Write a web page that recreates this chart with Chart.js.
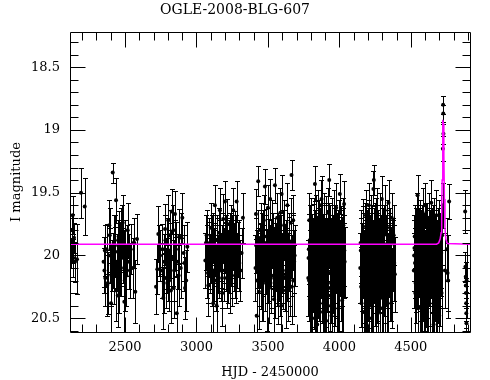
<!DOCTYPE html>
<html><head><meta charset="utf-8">
<script src="https://cdn.jsdelivr.net/npm/chart.js@4/dist/chart.umd.min.js"></script>
<style>html,body{margin:0;padding:0;background:#fff}#wrap{width:490px;height:380px}</style>
</head><body><div id="wrap"><canvas id="c" width="490" height="380"></canvas></div>
<script>
const chartTitle = 'OGLE-2008-BLG-607';
const xTitle = 'HJD - 2450000';
const yTitle = 'I magnitude';
const xTicks = [2500, 3000, 3500, 4000, 4500];
const yTicks = [18.5, 19, 19.5, 20, 20.5];

const hjd = [
 2121,2126,2130,2134,2138,2143,2150,2164,2192,2218,
 2350,2356,2362,2371,2380,2390,2396,2402,2408,2414,2420,2426,2432,2437,2443,2449,2455,2460,2466,2472,2478,2484,2490,2495,2502,2510,2519,2528,2540,2554,2565,2572,2584,
 2717,2726,2733,2745,2757,2762,2768,2774,2780,2786,2792,2797,2803,2809,2815,2821,2827,2833,2838,2844,2850,2856,2862,2870,2880,2890,2901,2910,2920,2936,
 3066,3071,3077,3083,3088,3094,3100,3106,3111,3117,3123,3129,3135,3141,3147,3152,3158,3164,3170,3176,3181,3187,3193,3199,3205,3211,3217,3222,3228,3234,3240,3246,3252,3257,3263,3269,3275,3281,3290,3300,3316,3325,
 3416,3421,3426,3432,3437,3444,3449,3455,3460,3466,3471,3479,3484,3490,3495,3500,3506,3511,3516,3521,3527,3532,3538,3543,3549,3554,3560,3565,3571,3576,3582,3587,3593,3596,3602,3608,3613,3619,3625,3630,3636,3641,3647,3653,3659,3665,3667,3672,3677,3684,
 3782,3786,3789,3794,3798,3802,3806,3810,3814,3818,3822,3826,3829,3833,3837,3841,3845,3849,3853,3857,3861,3865,3869,3875,3879,3883,3887,3891,3895,3899,3903,3907,3911,3915,3919,3923,3929,3933,3937,3941,3945,3949,3953,3957,3961,3965,3969,3973,3978,3983,3988,3993,3998,4003,4008,4013,4018,4023,4028,4033,4037,
 4148,4152,4155,4159,4162,4166,4170,4174,4178,4182,4186,4190,4194,4198,4202,4206,4210,4214,4218,4222,4226,4230,4234,4238,4241,4245,4249,4253,4257,4261,4265,4269,4273,4277,4281,4285,4289,4293,4297,4301,4305,4309,4313,4317,4321,4325,4329,4334,4339,4344,4349,4354,4360,4366,4372,4380,4388,
 4523,4527,4531,4535,4539,4543,4547,4551,4555,4559,4563,4567,4571,4575,4579,4583,4587,4591,4595,4599,4603,4607,4611,4615,4619,4623,4627,4631,4635,4639,4643,4647,4651,4655,4659,4663,4667,4671,4675,4679,4683,4687,4691,4695,4699,4703,4707,4711,4715,4719,
 4722,4724,4726,4727,4728,4740,4752,4757,4761,4768,
 4880,4882,4884,4885,4886,4887,4888,4889,4890,
 2359,2375,2393,2405,2417,2429,2440,2452,2463,2475,2487,2498,2514,2534,2560,
 2738,2771,2783,2800,2812,2824,2841,2853,2875,2895,2915,2928,
 3062,3074,3080,3091,3097,3103,3114,3120,3126,3132,3138,3144,3150,3155,3161,3167,3173,3179,3184,3190,3196,3202,3208,3214,3220,3225,3231,3237,3243,3249,3255,3260,3266,3272,3278,3285,3295,3308,
 3413,3418,3424,3429,3434,3440,3446,3452,3457,3463,3468,3474,3481,3487,3492,3498,3503,3508,3514,3518,3524,3530,3535,3541,3546,3551,3557,3563,3568,3574,3579,3585,3590,3599,3605,3611,3616,3622,3628,3633,3639,3644,3650,3656,3662,3670,3675,3681,3687,
 3784,3788,3792,3796,3800,3804,3808,3812,3816,3820,3824,3828,3831,3835,3839,3843,3847,3851,3855,3859,3863,3867,3872,3877,3881,3885,3889,3893,3897,3901,3905,3909,3913,3917,3921,3926,3931,3935,3939,3943,3947,3951,3955,3959,3963,3967,3971,3975,3980,3985,3990,3995,4000,4005,4010,4015,4020,4025,4030,4035,
 4146,4150,4157,4160,4164,4168,4172,4176,4180,4184,4188,4192,4196,4200,4204,4208,4212,4216,4220,4224,4228,4232,4236,4243,4247,4251,4255,4259,4263,4267,4271,4275,4279,4283,4287,4291,4295,4299,4303,4307,4311,4315,4319,4323,4327,4331,4336,4341,4346,4351,4357,4363,4369,4376,4384,
 4521,4525,4529,4533,4537,4541,4545,4549,4553,4557,4561,4565,4569,4573,4577,4581,4585,4589,4593,4597,4601,4605,4609,4613,4617,4621,4625,4629,4633,4637,4641,4645,4649,4653,4657,4661,4665,4669,4673,4677,4681,4685,4689,4693,4697,4701,4705,4709,4713,4717
];
const mag = [
 19.98,19.92,19.80,19.68,20.02,19.86,20.05,20.03,19.50,19.61,
 20.05,20.12,20.18,19.95,20.22,19.76,20.00,20.38,20.08,19.34,19.90,20.15,19.97,19.56,20.05,20.32,19.85,20.22,19.93,20.10,19.80,19.74,20.02,20.37,19.92,20.16,19.80,20.05,19.95,20.10,19.90,20.29,19.87,
 20.25,20.11,19.83,20.00,20.12,19.95,20.34,20.05,19.79,20.18,19.90,20.08,19.72,20.20,19.96,20.28,19.65,20.02,19.80,20.12,19.67,19.95,20.46,20.05,19.85,20.10,19.70,19.98,20.26,19.93,
 19.90,19.84,20.10,20.24,19.95,20.05,19.78,20.15,19.88,20.38,20.00,19.60,20.20,20.40,19.92,20.08,19.82,19.64,20.12,19.98,20.30,19.71,20.05,19.57,19.88,20.18,19.75,20.02,19.94,20.22,19.80,20.10,19.90,19.64,20.00,19.85,20.14,19.57,19.95,20.06,19.98,19.70,
 19.67,20.48,20.05,19.41,20.29,20.00,19.80,20.15,19.90,20.22,19.72,19.45,20.05,19.85,20.30,19.62,20.10,19.95,19.55,20.18,19.78,20.02,19.88,20.35,19.44,19.98,20.12,19.70,20.25,19.92,20.06,19.66,20.40,19.51,19.86,20.15,19.76,20.00,20.28,19.82,19.60,20.08,19.93,20.20,19.74,19.36,20.25,19.88,19.72,20.05,
 20.18,19.95,19.72,20.35,20.05,19.85,20.25,20.50,19.98,20.15,19.78,20.40,19.43,20.08,19.92,20.30,20.55,19.70,20.02,20.20,19.88,20.45,19.60,19.55,20.12,19.95,20.38,19.82,20.05,20.25,19.75,20.52,19.98,20.15,19.66,20.32,19.40,20.00,19.86,20.22,20.48,19.78,20.08,19.94,20.35,19.70,20.18,20.02,19.62,20.28,19.90,20.42,20.10,19.51,19.85,20.20,19.95,20.30,19.76,19.59,20.05,
 19.90,20.25,20.38,20.02,19.85,19.77,20.45,20.10,19.95,20.30,19.68,20.55,20.05,19.88,20.20,19.60,20.40,19.98,20.12,19.74,20.50,19.92,20.28,19.47,19.40,20.08,19.82,20.35,20.00,19.66,20.22,20.46,19.90,20.15,19.72,20.32,19.96,20.05,19.55,20.42,19.86,20.18,20.02,19.64,20.28,19.94,20.10,19.78,20.38,19.58,20.05,19.88,20.20,19.70,20.00,19.84,20.15,
 20.00,19.85,20.30,19.95,20.15,19.72,19.52,20.42,20.05,19.88,20.41,19.78,20.20,19.98,20.50,19.66,20.10,19.92,20.32,19.60,20.02,20.25,19.82,20.45,19.95,20.12,19.70,20.38,19.90,20.06,19.58,20.28,19.86,20.15,20.55,19.76,20.00,19.94,20.35,19.68,20.08,19.88,20.22,19.80,20.48,19.96,20.10,19.74,20.30,19.84,
 19.60,19.15,18.80,18.87,19.03,20.12,19.95,20.14,20.20,19.57,
 19.65,20.09,20.17,20.24,20.30,20.38,20.46,20.54,20.20,
 19.96,20.24,19.84,20.16,20.04,19.88,20.28,19.92,20.10,19.82,20.00,20.20,19.96,20.12,19.90,
 19.96,20.22,19.88,20.14,19.84,20.02,20.26,19.92,20.16,19.86,20.06,20.20,
 20.04,19.96,20.14,19.90,20.08,20.00,19.86,20.12,20.02,19.94,20.16,19.88,20.06,19.98,20.10,19.92,20.04,20.18,19.86,20.00,20.12,19.94,20.06,19.90,20.14,19.98,20.08,19.86,20.02,20.16,19.92,20.06,19.96,20.10,19.88,20.04,19.92,20.12,
 20.10,19.92,20.20,20.02,19.86,20.14,19.96,20.06,20.24,19.84,20.08,19.98,20.18,19.90,20.04,20.12,19.82,20.26,20.00,19.94,20.16,19.88,20.08,20.02,20.22,19.92,20.04,20.14,19.86,20.10,19.98,20.20,19.90,20.06,20.12,19.84,20.18,20.00,19.94,20.10,20.24,19.88,20.04,20.14,19.96,20.08,19.90,20.20,20.00,
 20.02,20.20,19.88,20.10,19.80,20.30,19.95,20.15,20.05,19.85,20.25,19.92,20.12,19.78,20.35,20.00,19.90,20.18,20.08,19.82,20.28,19.96,20.04,19.88,20.22,20.12,19.76,20.32,19.98,20.06,19.86,20.20,20.10,19.92,20.40,19.84,20.14,20.26,19.98,20.04,19.80,20.30,20.16,19.90,20.08,20.24,19.86,20.00,20.18,19.94,20.12,19.82,20.26,20.02,19.92,20.10,20.36,19.88,20.04,19.96,
 20.10,19.96,20.14,20.30,19.92,20.06,20.22,19.84,20.12,20.00,20.34,19.90,20.18,20.04,19.80,20.26,20.08,19.94,20.38,20.02,19.86,20.16,20.00,19.88,20.24,20.10,19.78,20.30,20.04,19.92,20.20,19.98,20.12,19.86,20.34,20.06,19.94,20.16,20.00,20.28,19.84,20.10,20.22,19.96,20.04,20.32,19.90,20.12,20.02,20.20,19.92,20.08,20.26,19.98,20.06,
 20.12,19.94,20.06,20.22,19.88,20.10,20.02,19.84,20.28,19.96,20.14,20.04,19.90,20.32,20.08,19.86,20.20,20.00,19.92,20.26,20.12,19.82,20.06,20.18,19.98,20.36,19.88,20.10,20.02,20.24,19.94,20.08,20.16,19.84,20.30,20.04,19.96,20.20,20.10,19.90,20.28,20.00,19.86,20.14,20.06,19.92,20.24,20.04,19.98,20.12
];
const err = [
 0.12,0.14,0.13,0.15,0.15,0.12,0.16,0.28,0.20,0.23,
 0.20,0.18,0.22,0.20,0.25,0.20,0.22,0.25,0.20,0.08,0.22,0.24,0.20,0.18,0.22,0.25,0.20,0.24,0.20,0.22,0.20,0.22,0.22,0.25,0.20,0.24,0.22,0.22,0.20,0.24,0.20,0.25,0.20,
 0.22,0.20,0.22,0.20,0.22,0.20,0.25,0.22,0.20,0.24,0.20,0.22,0.20,0.24,0.22,0.26,0.18,0.22,0.20,0.24,0.18,0.22,0.30,0.22,0.22,0.24,0.20,0.22,0.25,0.20,
 0.22,0.20,0.24,0.24,0.22,0.22,0.20,0.25,0.20,0.26,0.22,0.16,0.24,0.27,0.22,0.22,0.20,0.18,0.24,0.22,0.26,0.20,0.22,0.16,0.20,0.24,0.20,0.22,0.22,0.24,0.20,0.24,0.22,0.18,0.22,0.20,0.24,0.16,0.22,0.22,0.20,0.20,
 0.20,0.35,0.25,0.12,0.30,0.25,0.22,0.28,0.24,0.30,0.20,0.14,0.26,0.22,0.30,0.18,0.26,0.24,0.16,0.28,0.22,0.25,0.22,0.30,0.14,0.24,0.26,0.20,0.30,0.24,0.26,0.20,0.32,0.15,0.22,0.28,0.20,0.25,0.30,0.22,0.18,0.26,0.24,0.28,0.20,0.12,0.30,0.22,0.20,0.25,
 0.30,0.28,0.22,0.35,0.30,0.25,0.32,0.40,0.28,0.30,0.24,0.36,0.14,0.30,0.26,0.34,0.40,0.22,0.28,0.32,0.26,0.38,0.20,0.18,0.30,0.28,0.36,0.24,0.30,0.32,0.22,0.40,0.28,0.30,0.20,0.34,0.13,0.28,0.26,0.32,0.38,0.24,0.30,0.26,0.36,0.22,0.30,0.28,0.20,0.34,0.26,0.36,0.30,0.16,0.24,0.32,0.26,0.34,0.22,0.18,0.28,
 0.26,0.32,0.36,0.28,0.24,0.22,0.38,0.30,0.26,0.34,0.20,0.40,0.28,0.26,0.32,0.18,0.36,0.28,0.30,0.22,0.40,0.26,0.34,0.14,0.12,0.30,0.24,0.36,0.28,0.20,0.32,0.38,0.26,0.30,0.22,0.34,0.28,0.28,0.18,0.36,0.24,0.30,0.28,0.20,0.34,0.26,0.30,0.22,0.36,0.18,0.28,0.26,0.32,0.20,0.28,0.24,0.30,
 0.28,0.25,0.34,0.26,0.30,0.22,0.16,0.36,0.28,0.26,0.36,0.22,0.32,0.28,0.40,0.20,0.30,0.26,0.34,0.18,0.28,0.32,0.24,0.38,0.26,0.30,0.20,0.36,0.26,0.28,0.18,0.34,0.24,0.30,0.40,0.22,0.28,0.26,0.36,0.20,0.30,0.26,0.32,0.24,0.38,0.28,0.30,0.22,0.34,0.24,
 0.18,0.10,0.07,0.07,0.08,0.30,0.25,0.30,0.30,0.14,
 0.17,0.12,0.12,0.14,0.12,0.14,0.12,0.12,0.30,
 0.20,0.24,0.22,0.24,0.22,0.20,0.24,0.20,0.22,0.20,0.22,0.24,0.20,0.22,0.20,
 0.20,0.24,0.20,0.22,0.20,0.22,0.24,0.20,0.24,0.20,0.22,0.24,
 0.22,0.20,0.24,0.20,0.22,0.22,0.20,0.24,0.22,0.20,0.24,0.20,0.22,0.22,0.24,0.20,0.22,0.24,0.20,0.22,0.24,0.20,0.22,0.20,0.24,0.22,0.22,0.20,0.22,0.24,0.20,0.22,0.22,0.24,0.20,0.22,0.20,0.24,
 0.26,0.22,0.28,0.24,0.22,0.26,0.22,0.24,0.28,0.20,0.24,0.22,0.26,0.22,0.24,0.26,0.20,0.28,0.24,0.22,0.26,0.22,0.24,0.24,0.28,0.22,0.24,0.26,0.20,0.26,0.22,0.28,0.22,0.24,0.26,0.20,0.26,0.24,0.22,0.26,0.28,0.22,0.24,0.26,0.22,0.24,0.22,0.28,0.24,
 0.30,0.32,0.28,0.30,0.26,0.34,0.28,0.30,0.30,0.26,0.34,0.28,0.30,0.26,0.36,0.30,0.28,0.32,0.30,0.26,0.34,0.28,0.30,0.28,0.32,0.30,0.26,0.34,0.28,0.30,0.26,0.32,0.30,0.28,0.36,0.26,0.30,0.34,0.28,0.30,0.26,0.34,0.30,0.28,0.30,0.32,0.26,0.30,0.32,0.28,0.30,0.26,0.34,0.30,0.28,0.30,0.36,0.26,0.30,0.28,
 0.28,0.26,0.30,0.34,0.26,0.28,0.32,0.26,0.30,0.28,0.34,0.26,0.30,0.28,0.24,0.32,0.30,0.26,0.36,0.28,0.26,0.30,0.28,0.26,0.32,0.30,0.24,0.34,0.28,0.26,0.32,0.28,0.30,0.26,0.34,0.28,0.26,0.30,0.28,0.34,0.24,0.30,0.32,0.26,0.28,0.34,0.26,0.30,0.28,0.32,0.26,0.30,0.32,0.28,0.30,
 0.30,0.26,0.28,0.32,0.26,0.30,0.28,0.24,0.34,0.28,0.30,0.28,0.26,0.34,0.30,0.26,0.32,0.28,0.26,0.34,0.30,0.24,0.28,0.32,0.28,0.36,0.26,0.30,0.28,0.32,0.26,0.30,0.30,0.24,0.34,0.28,0.26,0.32,0.30,0.26,0.34,0.28,0.24,0.30,0.28,0.26,0.32,0.28,0.28,0.30
];
const modelHjd = [2115,4680,4695,4705,4712,4716,4719,4722,4725,4728,4731,4735,4739,4745,4755,4914];
const modelMag = [19.91,19.91,19.90,19.87,19.82,19.70,19.40,19.05,18.92,18.95,19.20,19.55,19.78,19.87,19.905,19.91];

const FONT = 'DejaVu Serif';
const points = hjd.map((h, i) => ({x: h, y: mag[i]}));
const model = modelHjd.map((h, i) => ({x: h, y: modelMag[i]}));

const errPlugin = {
  id: 'errbars',
  beforeDatasetsDraw(chart) {
    const {ctx, chartArea: a, scales: {x, y}} = chart;
    ctx.save();
    ctx.beginPath();
    ctx.rect(a.left, a.top, a.right - a.left, a.bottom - a.top);
    ctx.clip();
    ctx.strokeStyle = '#000';
    ctx.lineWidth = 1;
    ctx.beginPath();
    const n = Math.min(hjd.length, mag.length, err.length);
    for (let i = 0; i < n; i++) {
      const px = Math.round(x.getPixelForValue(hjd[i])) + 0.5;
      const y1 = Math.round(y.getPixelForValue(mag[i] - err[i])) + 0.5;
      const y2 = Math.round(y.getPixelForValue(mag[i] + err[i])) + 0.5;
      ctx.moveTo(px, y1); ctx.lineTo(px, y2);
      ctx.moveTo(px - 2.5, y1); ctx.lineTo(px + 2.5, y1);
      ctx.moveTo(px - 2.5, y2); ctx.lineTo(px + 2.5, y2);
    }
    ctx.stroke();
    ctx.restore();
  },
  afterDraw(chart) {
    const {ctx, chartArea: a, scales: {x, y}} = chart;
    ctx.save();
    ctx.strokeStyle = '#000';
    ctx.lineWidth = 1;
    ctx.beginPath();
    const L = Math.round(a.left) + 0.5, R = Math.round(a.right) + 0.5;
    const T = Math.round(a.top) + 0.5, B = Math.round(a.bottom) + 0.5;
    ctx.rect(L, T, R - L, B - T);
    for (let k = 22; k <= 49; k++) {
      const v = k * 100;
      const len = (v % 500 === 0) ? 15 : 8;
      const px = Math.round(x.getPixelForValue(v)) + 0.5;
      if (px <= L || px >= R) continue;
      ctx.moveTo(px, B); ctx.lineTo(px, B - len);
      ctx.moveTo(px, T); ctx.lineTo(px, T + len);
    }
    for (let k = 183; k <= 206; k++) {
      const v = k / 10;
      const len = (k % 5 === 0) ? 15 : 8;
      const py = Math.round(y.getPixelForValue(v)) + 0.5;
      if (py <= T || py >= B) continue;
      ctx.moveTo(L, py); ctx.lineTo(L + len, py);
      ctx.moveTo(R, py); ctx.lineTo(R - len, py);
    }
    ctx.stroke();
    ctx.restore();
  }
};

new Chart(document.getElementById('c'), {
  type: 'scatter',
  data: {
    datasets: [
      {
        label: 'model', type: 'line', data: model, order: 0,
        borderColor: '#ff00ff', borderWidth: 1.5, pointRadius: 0, tension: 0, fill: false
      },
      {
        label: 'OGLE I', data: points, order: 1,
        backgroundColor: '#000', borderColor: '#000', pointStyle: 'circle',
        pointRadius: 2, borderWidth: 0
      }
    ]
  },
  options: {
    responsive: false, animation: false, devicePixelRatio: 1,
    layout: {padding: {left: 0, right: 20, top: 0, bottom: 0}},
    plugins: {
      legend: {display: false},
      tooltip: {enabled: false},
      title: {
        display: true, text: chartTitle, color: '#000',
        font: {family: FONT, size: 14, weight: 'normal', lineHeight: 1},
        padding: {top: 3, bottom: 15}
      }
    },
    scales: {
      x: {
        type: 'linear', position: 'bottom', min: 2115, max: 4914,
        afterBuildTicks: s => { s.ticks = xTicks.map(v => ({value: v})); },
        afterFit: s => { s.height = 48; },
        grid: {display: false, drawTicks: false},
        border: {display: false},
        ticks: {color: '#000', font: {family: FONT, size: 13}, padding: 8, maxRotation: 0, autoSkip: false,
          callback: v => String(v)},
        title: {display: true, text: xTitle, color: '#000', font: {family: FONT, size: 13, lineHeight: 1}, padding: {top: 0, bottom: 1}}
      },
      y: {
        type: 'linear', position: 'left', reverse: true, min: 18.22, max: 20.61,
        afterBuildTicks: s => { s.ticks = yTicks.map(v => ({value: v})); },
        afterFit: s => { s.width = 70; },
        grid: {display: false, drawTicks: false},
        border: {display: false},
        ticks: {color: '#000', font: {family: FONT, size: 13}, padding: 10, autoSkip: false,
          callback: v => String(v)},
        title: {display: true, text: yTitle, color: '#000', font: {family: FONT, size: 13, lineHeight: 1}, padding: {top: 10, bottom: 0}}
      }
    }
  },
  plugins: [errPlugin]
});
</script>
</body></html>
